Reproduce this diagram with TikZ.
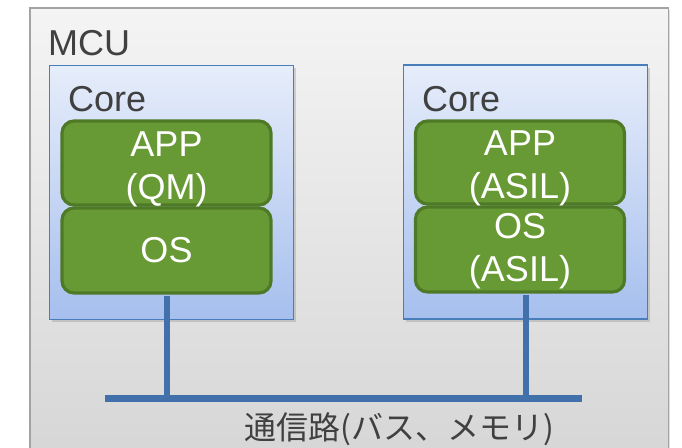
\documentclass[tikz,border=0pt]{standalone}
\usepackage{fontspec}
\setmainfont{Liberation Sans}
\newfontfamily\cjk{Noto Sans CJK JP}
\usetikzlibrary{shadows}
\definecolor{mcutop}{HTML}{F4F4F4}
\definecolor{mcubot}{HTML}{D6D6D6}
\definecolor{mcuborder}{HTML}{A3A3A3}
\definecolor{coretop}{HTML}{E6EDFA}
\definecolor{corebot}{HTML}{A6BFEE}
\definecolor{coreborder}{HTML}{4A7EBB}
\definecolor{greenfill}{HTML}{679A34}
\definecolor{greenborder}{HTML}{4E7A27}
\definecolor{busblue}{HTML}{4170AA}
\definecolor{textgray}{HTML}{404040}
\begin{document}
\begin{tikzpicture}[x=1pt,y=-1pt,
  mcubox/.style={draw=mcuborder, line width=1.5pt, top color=mcutop, bottom color=mcubot,
    minimum width=638.5pt, minimum height=452pt, inner sep=0pt,
    drop shadow={shadow xshift=2pt, shadow yshift=-2pt, opacity=0.25}},
  corebox/.style={draw=coreborder, line width=1.2pt, top color=coretop, bottom color=corebot,
    minimum width=244pt, minimum height=254pt, inner sep=0pt,
    drop shadow={shadow xshift=2.5pt, shadow yshift=-2.5pt, opacity=0.3}},
  layer/.style={draw=greenborder, line width=3.2pt, fill=greenfill, rounded corners=12pt,
    minimum width=209pt, inner sep=0pt},
  layertext/.style={text=white, font=\fontsize{36}{43}\selectfont, align=center, inner sep=0pt, anchor=base},
  title/.style={text=textgray, font=\fontsize{36}{43}\selectfont, inner sep=0pt, anchor=base west},
  bus/.style={draw=busblue, line width=7pt},
  link/.style={draw=busblue, line width=6pt}]
\useasboundingbox (0,0) rectangle (682,447);

% MCU
\node[mcubox] (mcu) at (349,234) {};
\node[title] (mcut) at (48,55) {MCU};

% Cores
\node[corebox] (lcore) at (171.5,192.5) {};
\node[corebox] (rcore) at (525.5,192) {};
\node[title] (lcoret) at (68,111) {Core};
\node[title] (rcoret) at (422,111) {Core};

% layers
\node[layer, minimum height=84pt] (lapp) at (166.5,163) {};
\node[layer, minimum height=85pt] (los) at (166.5,250.5) {};
\node[layer, minimum height=83pt] (rapp) at (520,162.5) {};
\node[layer, minimum height=85pt] (ros) at (520,249.5) {};

% bus
\coordinate (busL) at (105,398);
\coordinate (busR) at (582,398);
\draw[bus] (busL) -- (busR);
\draw[link] ([yshift=-1.5pt]los.south) -- (los.south |- busL);
\draw[link] ([xshift=6pt,yshift=-1.5pt]ros.south) -- ([xshift=6pt]ros.south |- busL);

% layer texts (base = baseline of the last line)
\node[layertext] (lappt) at (166.5,199) {APP\\(QM)};
\node[layertext] (lost) at (166.5,262) {OS};
\node[layertext] (rappt) at (520,198) {APP\\(ASIL)};
\node[layertext] (rost) at (520,281) {OS\\(ASIL)};

% bus label
\node[text=textgray, font=\cjk\fontsize{32}{36}\selectfont, inner sep=0pt] (buslabel) at (399,429) {通信路(バス、メモリ)};
\end{tikzpicture}
\end{document}
